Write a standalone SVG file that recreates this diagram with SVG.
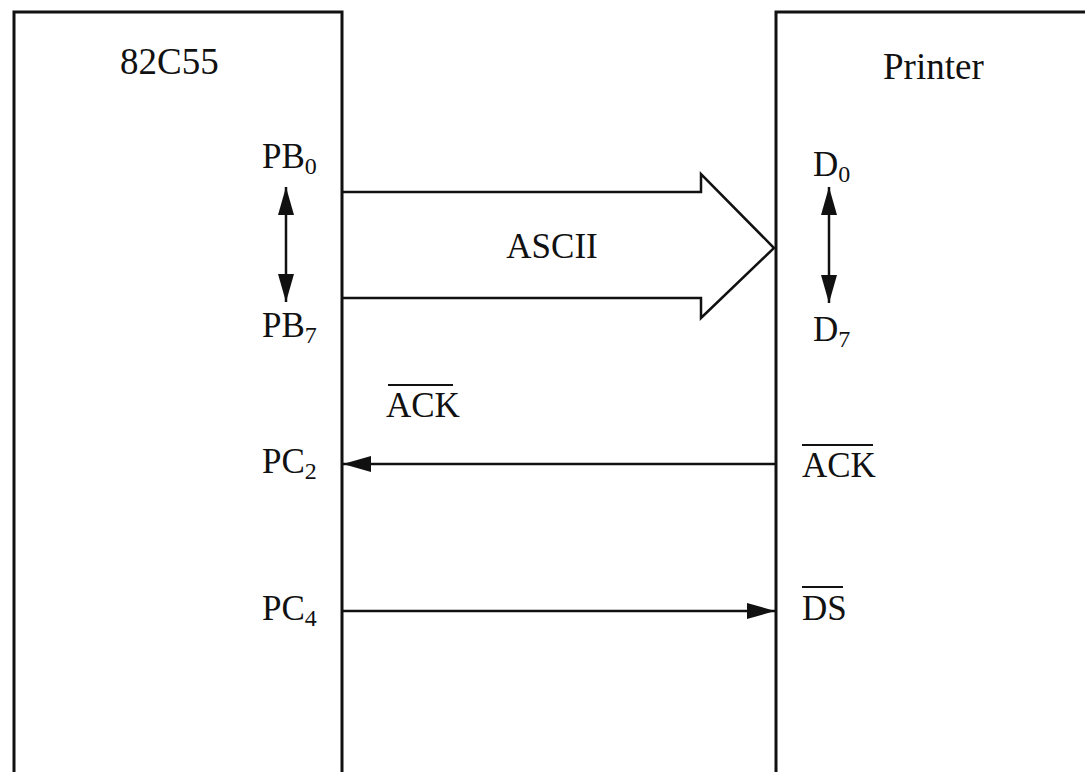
<svg xmlns="http://www.w3.org/2000/svg" width="1085" height="772" viewBox="0 0 1085 772">
<style>
.box{fill:none;stroke:#111;stroke-width:3}
.ln{fill:none;stroke:#111;stroke-width:2.5}
.ov{fill:none;stroke:#111;stroke-width:2}
text{font-family:"Liberation Serif","Times New Roman",serif;font-size:35px;fill:#111}
.title{font-size:37px}
.sub{font-size:24px}
</style>
<defs>
<marker id="ahb" viewBox="0 0 28 16" refX="28" refY="8" markerWidth="28" markerHeight="16" markerUnits="userSpaceOnUse" orient="auto-start-reverse">
<path d="M0,0 L28,8 L0,16 z" fill="#111"/>
</marker>
</defs>
<rect width="1085" height="772" fill="#fff"/>
<g id="n82c55">
<rect class="box" x="14" y="12" width="328" height="762"/>
<text class="title" x="120" y="74">82C55</text>
<text x="262" y="168">PB<tspan class="sub" dy="6">0</tspan></text>
<text x="262" y="337">PB<tspan class="sub" dy="6">7</tspan></text>
<text x="262" y="473">PC<tspan class="sub" dy="6">2</tspan></text>
<text x="262" y="620">PC<tspan class="sub" dy="6">4</tspan></text>
</g>
<g id="printer">
<rect class="box" x="776" y="12" width="330" height="762"/>
<text class="title" x="883" y="79">Printer</text>
<text x="813" y="176">D<tspan class="sub" dy="6">0</tspan></text>
<text x="813" y="341">D<tspan class="sub" dy="6">7</tspan></text>
<text x="802" y="477">ACK</text>
<line class="ov" x1="802" y1="445" x2="873" y2="445"/>
<text x="802" y="620">DS</text>
<line class="ov" x1="802" y1="587" x2="843" y2="587"/>
</g>
<g id="connectors">
<path class="ln" d="M342,192 L701,192 L701,174 L774,248 L701,318 L701,298 L342,298"/>
<text x="552" y="258" text-anchor="middle">ASCII</text>
<line class="ln" x1="286" y1="187" x2="286" y2="302" marker-start="url(#ahb)" marker-end="url(#ahb)"/>
<line class="ln" x1="829" y1="187" x2="829" y2="303" marker-start="url(#ahb)" marker-end="url(#ahb)"/>
<text x="386" y="417">ACK</text>
<line class="ov" x1="388" y1="385" x2="453" y2="385"/>
<line class="ln" x1="776" y1="464" x2="343" y2="464" marker-end="url(#ahb)"/>
<line class="ln" x1="342" y1="611" x2="775" y2="611" marker-end="url(#ahb)"/>
</g>
</svg>
